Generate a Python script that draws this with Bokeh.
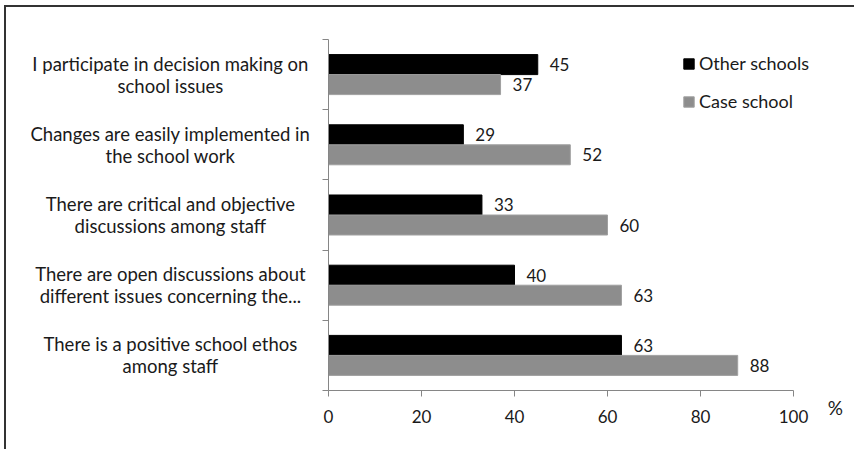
from bokeh.plotting import figure
from bokeh.models import ColumnDataSource, FixedTicker, Range1d, Legend
from bokeh.core.properties import value
from bokeh.embed import file_html
from bokeh.resources import INLINE

categories = [
    "I participate in decision making on\nschool issues",
    "Changes are easily implemented in\nthe school work",
    "There are critical and objective\ndiscussions among staff",
    "There are open discussions about\ndifferent issues concerning the...",
    "There is a positive school ethos\namong staff",
]
other_schools = [45, 29, 33, 40, 63]
case_school = [37, 52, 60, 63, 88]
x_ticks = [0, 20, 40, 60, 80, 100]
series_names = ["Other schools", "Case school"]
unit_label = "%"

FONT = "Lato"
INK = "#1a1a1a"
AXIS = "#868686"
n = len(categories)
centers = [n - i - 0.5 for i in range(n)]
bh = 0.285

# canvas 850x444; value 0 at px 322, 100 at px 787; category band 5 at px 32, 0 at px 383
W, H = 850, 444
px_x = 4.65
px_y = 70.2
x0 = -322 / px_x
x1 = (W - 322) / px_x
y1 = n + 32 / px_y
y0 = -(H - 383) / px_y

src = ColumnDataSource(dict(
    yo=[c + bh / 2 for c in centers],
    yc=[c - bh / 2 for c in centers],
    other=other_schools,
    case=case_school,
    lo=[str(v) for v in other_schools],
    lc=[str(v) for v in case_school],
))
cat_src = ColumnDataSource(dict(y=centers, text=categories, x=[-34.0] * n))
unit_src = ColumnDataSource(dict(x=[109.0], y=[-0.24], text=[unit_label]))

p = figure(width=W, height=H, output_backend="svg", toolbar_location=None,
           x_range=Range1d(x0, x1), y_range=Range1d(y0, y1),
           min_border_left=0, min_border_right=0, min_border_top=0, min_border_bottom=0)
p.outline_line_color = None
p.xgrid.grid_line_color = None
p.ygrid.grid_line_color = None
p.styles = {"border-left": "2px solid #333", "border-top": "2px solid #333",
            "margin-left": "4px", "margin-top": "5px"}

r1 = p.hbar(y="yo", right="other", left=0, height=bh, source=src,
            fill_color="#000000", line_color="#000000")
r2 = p.hbar(y="yc", right="case", left=0, height=bh, source=src,
            fill_color="#8d8d8d", line_color="#a0a0a0")

for ycol, xcol, tcol in [("yo", "other", "lo"), ("yc", "case", "lc")]:
    p.text(x=xcol, y=ycol, text=tcol, source=src, x_offset=12,
           text_baseline="middle", text_align="left",
           text_font=value(FONT), text_font_size="17px", text_color=INK)

# category labels (centered multi-line, like the original)
p.text(x="x", y="y", text="text", source=cat_src, text_align="center",
       text_baseline="middle", text_font=value(FONT), text_font_size="18.5px",
       text_color=INK, text_line_height=1.0)

# unit label
p.text(x="x", y="y", text="text", source=unit_src, text_align="center",
       text_baseline="middle", text_font=value(FONT), text_font_size="19px",
       text_color=INK)

# x axis
xa = p.xaxis[0]
xa.fixed_location = 0
xa.ticker = FixedTicker(ticks=x_ticks, minor_ticks=[])
xa.bounds = (0, 100)
xa.axis_line_color = AXIS
xa.major_tick_line_color = AXIS
xa.major_tick_out = 6
xa.major_tick_in = 0
xa.minor_tick_line_color = None
xa.major_label_text_font = FONT
xa.major_label_text_font_size = "17px"
xa.major_label_text_color = INK
xa.major_label_standoff = 13

# y axis (category boundaries as ticks)
ya = p.yaxis[0]
ya.fixed_location = 0
bounds_ticks = list(range(n + 1))
ya.ticker = FixedTicker(ticks=bounds_ticks, minor_ticks=[])
ya.major_label_overrides = {t: "" for t in bounds_ticks}
ya.bounds = (0, n)
ya.axis_line_color = AXIS
ya.major_tick_line_color = AXIS
ya.major_tick_out = 6
ya.major_tick_in = 0
ya.minor_tick_line_color = None

legend = Legend(items=[(series_names[0], [r1]), (series_names[1], [r2])],
                location=(676, 339), orientation="vertical")
legend.margin = 0
legend.padding = 0
legend.border_line_color = None
legend.background_fill_alpha = 0
legend.glyph_width = 13
legend.glyph_height = 13
legend.label_standoff = 4
legend.label_height = 20
legend.spacing = 16
legend.label_text_font = FONT
legend.label_text_font_size = "18px"
legend.label_text_color = INK
p.add_layout(legend)

open("out.html", "w").write(file_html(p, INLINE))
